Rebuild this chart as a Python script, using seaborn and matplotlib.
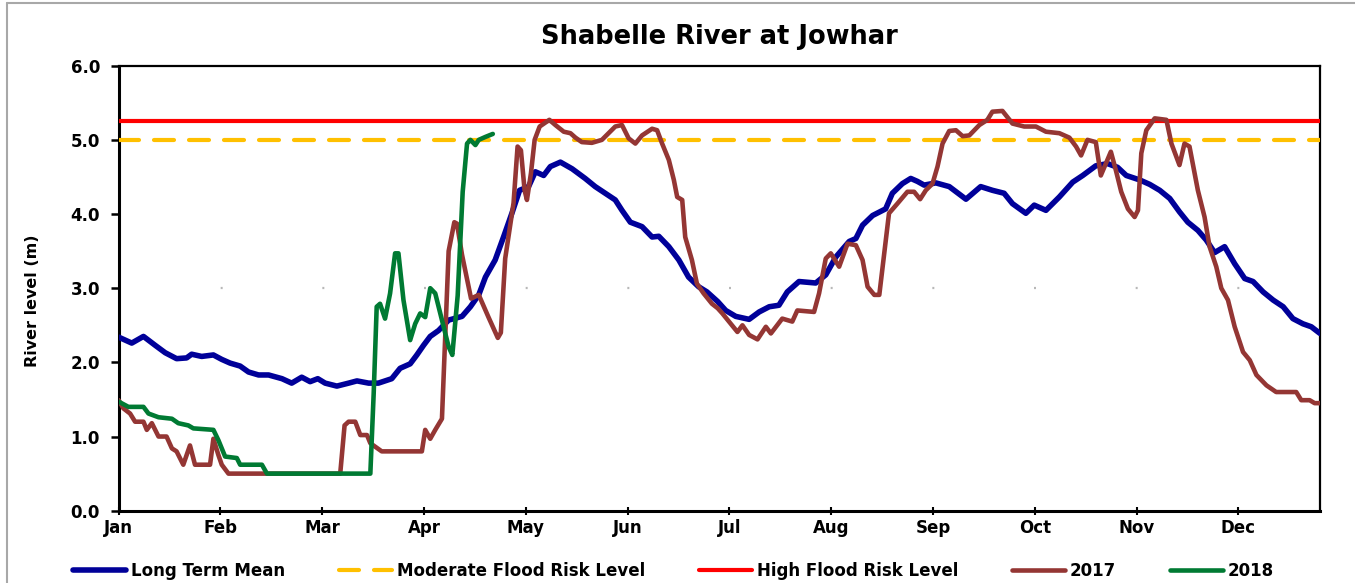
"""
Shabelle River at Jowhar - river level chart.
"""

import matplotlib
matplotlib.use("Agg")
import matplotlib.pyplot as plt
from matplotlib.lines import Line2D
import pandas as pd
import seaborn as sns

MONTHS = ["Jan", "Feb", "Mar", "Apr", "May", "Jun",
          "Jul", "Aug", "Sep", "Oct", "Nov", "Dec"]
MONTH_STEP = 30.42  # days between month ticks on the axis

# Long term mean (day of year, level in m)
LTM_DAY = [0, 3.9, 7.4, 10.9, 13.9, 17.3, 20.3, 21.8, 24.8, 28.3, 30.8, 33.3,
           36.3, 38.8, 41.8, 44.8, 48.8, 51.7, 54.7, 57.2, 59.5, 61.7, 65.2,
           68.7, 71.2, 74.7, 77.6, 81.6, 84.1, 87.1, 89.1, 91.1, 93.1, 95.6,
           98.6, 102.6, 105.1, 107.6, 109.6, 112.5, 115.0, 117.5, 119.8,
           122.5, 124.5, 127.0, 129.0, 132.0, 135.5, 139.4, 142.4, 145.4,
           148.4, 150.4, 152.9, 156.4, 159.4, 161.4, 164.4, 167.4, 170.3,
           173.3, 175.8, 179.0, 181.4, 184.4, 188.4, 191.4, 194.4, 197.3,
           199.8, 203.3, 208.3, 211.3, 214.3, 218.3, 220.3, 222.3, 225.3,
           229.2, 231.2, 234.2, 236.7, 238.7, 240.7, 244.2, 248.2, 253.2,
           257.6, 261.1, 264.6, 267.1, 271.1, 273.6, 277.1, 281.1, 285.1,
           288.1, 292.0, 295.5, 298.5, 301.1, 305.1, 308.1, 311.1, 314.1,
           317.0, 319.5, 322.5, 325.0, 327.5, 330.5, 333.5, 336.5, 339.0,
           342.0, 345.0, 348.0, 350.9, 353.9, 356.4, 359.0]
LTM_LEVEL = [2.34, 2.26, 2.35, 2.23, 2.13, 2.05, 2.06, 2.11, 2.08, 2.10, 2.04,
             1.99, 1.95, 1.87, 1.83, 1.83, 1.78, 1.72, 1.80, 1.74, 1.78, 1.72,
             1.68, 1.72, 1.75, 1.72, 1.72, 1.78, 1.92, 1.98, 2.10, 2.23, 2.35,
             2.43, 2.57, 2.62, 2.75, 2.91, 3.15, 3.38, 3.69, 4.01, 4.32, 4.37,
             4.57, 4.52, 4.64, 4.70, 4.61, 4.48, 4.37, 4.28, 4.19, 4.05, 3.89,
             3.83, 3.69, 3.70, 3.56, 3.38, 3.15, 3.02, 2.95, 2.82, 2.70, 2.62,
             2.58, 2.68, 2.75, 2.77, 2.95, 3.09, 3.07, 3.18, 3.42, 3.63, 3.67,
             3.85, 3.98, 4.07, 4.28, 4.41, 4.48, 4.44, 4.39, 4.42, 4.37, 4.20,
             4.37, 4.32, 4.28, 4.14, 4.01, 4.12, 4.05, 4.23, 4.43, 4.52, 4.65,
             4.68, 4.63, 4.52, 4.46, 4.40, 4.32, 4.21, 4.03, 3.89, 3.78, 3.65,
             3.48, 3.56, 3.33, 3.13, 3.09, 2.95, 2.84, 2.75, 2.59, 2.52, 2.48,
             2.39]

# 2017
Y2017_DAY = [0, 1.4, 3.4, 4.9, 7.4, 8.4, 9.9, 11.9, 14.3, 15.9, 17.3, 19.3,
             21.3, 22.8, 27.3, 28.3, 29.8, 30.8, 32.8, 66.2, 67.5, 68.7, 70.7,
             72.2, 74.2, 75.2, 78.6, 90.6, 91.6, 93.1, 94.6, 96.6, 97.3, 98.6,
             100.3, 101.1, 102.6, 105.3, 107.6, 110.5, 113.3, 114.2, 115.5,
             117.0, 118.0, 119.2, 120.2, 121.3, 122.0, 123.2, 124.3, 125.8,
             128.7, 130.5, 133.0, 135.0, 136.5, 138.4, 141.4, 144.4, 146.4,
             148.4, 150.4, 152.4, 154.4, 156.4, 159.4, 160.9, 162.4, 164.4,
             165.9, 166.9, 168.4, 169.3, 171.3, 172.8, 174.8, 177.3, 179.0,
             180.4, 182.9, 184.9, 186.4, 188.4, 190.9, 193.4, 194.9, 198.3,
             201.3, 202.8, 207.8, 209.3, 211.3, 212.8, 215.3, 217.8, 220.3,
             222.3, 223.8, 225.8, 227.3, 228.3, 230.2, 232.7, 235.7, 237.7,
             239.5, 241.2, 243.2, 244.7, 246.2, 248.2, 250.2, 252.2, 254.2,
             257.2, 259.6, 261.1, 264.1, 267.1, 270.6, 274.1, 277.1, 281.1,
             284.1, 286.1, 287.6, 289.5, 292.0, 293.5, 295.0, 296.5, 298.0,
             299.6, 301.6, 303.6, 304.6, 305.6, 307.1, 309.6, 313.1, 314.6,
             317.0, 318.5, 320.0, 322.5, 324.5, 326.0, 328.0, 329.5, 331.5,
             333.5, 336.0, 338.0, 340.0, 343.0, 345.9, 351.9, 353.4, 355.9,
             357.4, 359.0]
Y2017_LEVEL = [1.49, 1.38, 1.31, 1.20, 1.20, 1.09, 1.18, 1.00, 1.00, 0.84,
               0.80, 0.62, 0.88, 0.62, 0.62, 0.97, 0.75, 0.62, 0.50, 0.50,
               1.15, 1.20, 1.20, 1.02, 1.02, 0.91, 0.80, 0.80, 1.09, 0.97,
               1.09, 1.24, 2.03, 3.50, 3.89, 3.87, 3.45, 2.86, 2.91, 2.61,
               2.33, 2.40, 3.40, 3.85, 4.15, 4.91, 4.86, 4.32, 4.19, 4.55,
               5.00, 5.18, 5.27, 5.20, 5.11, 5.09, 5.03, 4.97, 4.96, 5.00,
               5.09, 5.18, 5.20, 5.02, 4.95, 5.06, 5.15, 5.13, 4.95, 4.73,
               4.46, 4.23, 4.19, 3.69, 3.38, 3.06, 2.93, 2.79, 2.73, 2.66,
               2.52, 2.41, 2.50, 2.37, 2.31, 2.48, 2.39, 2.59, 2.55, 2.70,
               2.68, 2.93, 3.40, 3.47, 3.29, 3.60, 3.58, 3.38, 3.02, 2.91,
               2.91, 3.29, 4.01, 4.14, 4.30, 4.30, 4.20, 4.32, 4.41, 4.64,
               4.95, 5.12, 5.13, 5.05, 5.06, 5.20, 5.27, 5.38, 5.39, 5.22,
               5.18, 5.18, 5.11, 5.09, 5.03, 4.91, 4.79, 5.00, 4.97, 4.52,
               4.68, 4.84, 4.59, 4.30, 4.07, 3.96, 4.05, 4.82, 5.13, 5.29,
               5.27, 4.95, 4.66, 4.95, 4.91, 4.32, 3.96, 3.56, 3.29, 3.00,
               2.84, 2.48, 2.14, 2.03, 1.83, 1.69, 1.60, 1.60, 1.49, 1.49,
               1.45, 1.45]

# 2018
Y2018_DAY = [0, 2.9, 7.4, 8.9, 11.9, 15.9, 17.8, 20.8, 22.3, 28.3, 29.8, 31.8,
             35.3, 36.3, 42.8, 44.3, 75.2, 76.2, 77.1, 78.1, 79.6, 81.1, 82.6,
             83.6, 85.1, 87.1, 88.6, 90.1, 91.6, 93.1, 94.6, 96.6, 98.6, 99.7,
             101.3, 102.8, 104.1, 105.1, 106.6, 107.6, 109.6, 111.8]
Y2018_LEVEL = [1.47, 1.40, 1.40, 1.31, 1.26, 1.24, 1.18, 1.15, 1.11, 1.09,
               0.95, 0.73, 0.71, 0.62, 0.62, 0.50, 0.50, 1.58, 2.75, 2.79,
               2.59, 2.93, 3.47, 3.47, 2.84, 2.30, 2.52, 2.66, 2.61, 3.00,
               2.93, 2.57, 2.21, 2.10, 2.90, 4.30, 4.95, 5.00, 4.93, 5.00,
               5.04, 5.08]

MODERATE_LEVEL = 5.0
HIGH_LEVEL = 5.25

sns.set_theme(style="white")
plt.rcParams["font.family"] = ["DejaVu Sans"]
plt.rcParams["font.weight"] = "bold"
plt.rcParams["text.color"] = "black"

fig = plt.figure(figsize=(13.55, 5.83), dpi=100)
ax = fig.add_axes([118.7 / 1355, 1 - 510.7 / 583, 1201.3 / 1355, 445 / 583])

# faint gridline dots at 3.0
ax.axhline(3.0, color="#b8b8b8", lw=1.6, linestyle=(0, (0.9, 44.85)), zorder=1)

ltm = pd.DataFrame({"day": LTM_DAY, "level": LTM_LEVEL})
y17 = pd.DataFrame({"day": Y2017_DAY, "level": Y2017_LEVEL})
y18 = pd.DataFrame({"day": Y2018_DAY, "level": Y2018_LEVEL})

sns.lineplot(data=ltm, x="day", y="level", ax=ax, color="#000099", lw=4.0,
             label="Long Term Mean", estimator=None, zorder=3)
ax.axhline(MODERATE_LEVEL, color="#ffc000", lw=3.0, linestyle=(0, (4.8, 3.6)),
           dash_capstyle="round", label="Moderate Flood Risk Level", zorder=3)
ax.axhline(HIGH_LEVEL, color="#ff0000", lw=3.0,
           label="High Flood Risk Level", zorder=3)
sns.lineplot(data=y17, x="day", y="level", ax=ax, color="#943634", lw=3.3,
             label="2017", estimator=None, zorder=4)
sns.lineplot(data=y18, x="day", y="level", ax=ax, color="#007a33", lw=3.3,
             label="2018", estimator=None, zorder=5)

handles, labels = ax.get_legend_handles_labels()
if ax.get_legend() is not None:
    ax.get_legend().remove()

ax.set_xlim(0, 359)
ax.set_ylim(0, 6)
ax.set_xticks([i * MONTH_STEP for i in range(12)])
ax.set_xticklabels(MONTHS)
ax.set_yticks(range(7))
ax.set_yticklabels([f"{v:.1f}" for v in range(7)])
ax.set_xlabel("")
ax.set_ylabel("")

for side in ["left", "bottom"]:
    ax.spines[side].set_linewidth(2.2)
for side in ["top", "right"]:
    ax.spines[side].set_linewidth(1.6)
for side in ax.spines:
    ax.spines[side].set_color("black")

ax.tick_params(axis="y", direction="out", length=5.5, width=1.8, pad=8,
               labelsize=12, colors="black", left=True)
ax.tick_params(axis="x", direction="inout", length=6, width=1.5, pad=3,
               labelsize=12, colors="black", bottom=True)
for lab in ax.get_xticklabels() + ax.get_yticklabels():
    lab.set_fontweight("bold")

fig.text(719 / 1355, 1 - 37 / 583, "Shabelle River at Jowhar", ha="center",
         va="center", fontsize=18.5, fontweight="bold", color="black")
fig.text(33 / 1355, 1 - 301 / 583, "River level (m)", ha="center",
         va="center", rotation=90, fontsize=11.5, fontweight="bold",
         color="black")

fig.legend(handles, labels, loc="center", bbox_to_anchor=(0.497, 1 - 571 / 583),
           ncol=5, frameon=False, handlelength=3.2, handletextpad=0.3,
           columnspacing=3.2, labelcolor="black",
           prop={"weight": "bold", "size": 12})

# chart area border (left and top edges visible in the crop)
border = "#a8a8a8"
fig.add_artist(Line2D([7 / 1355, 7 / 1355], [0, 1 - 3 / 583],
                      transform=fig.transFigure, color=border, lw=1.5))
fig.add_artist(Line2D([7 / 1355, 1], [1 - 3 / 583, 1 - 3 / 583],
                      transform=fig.transFigure, color=border, lw=1.5))

fig.savefig("out.png", dpi=100)
